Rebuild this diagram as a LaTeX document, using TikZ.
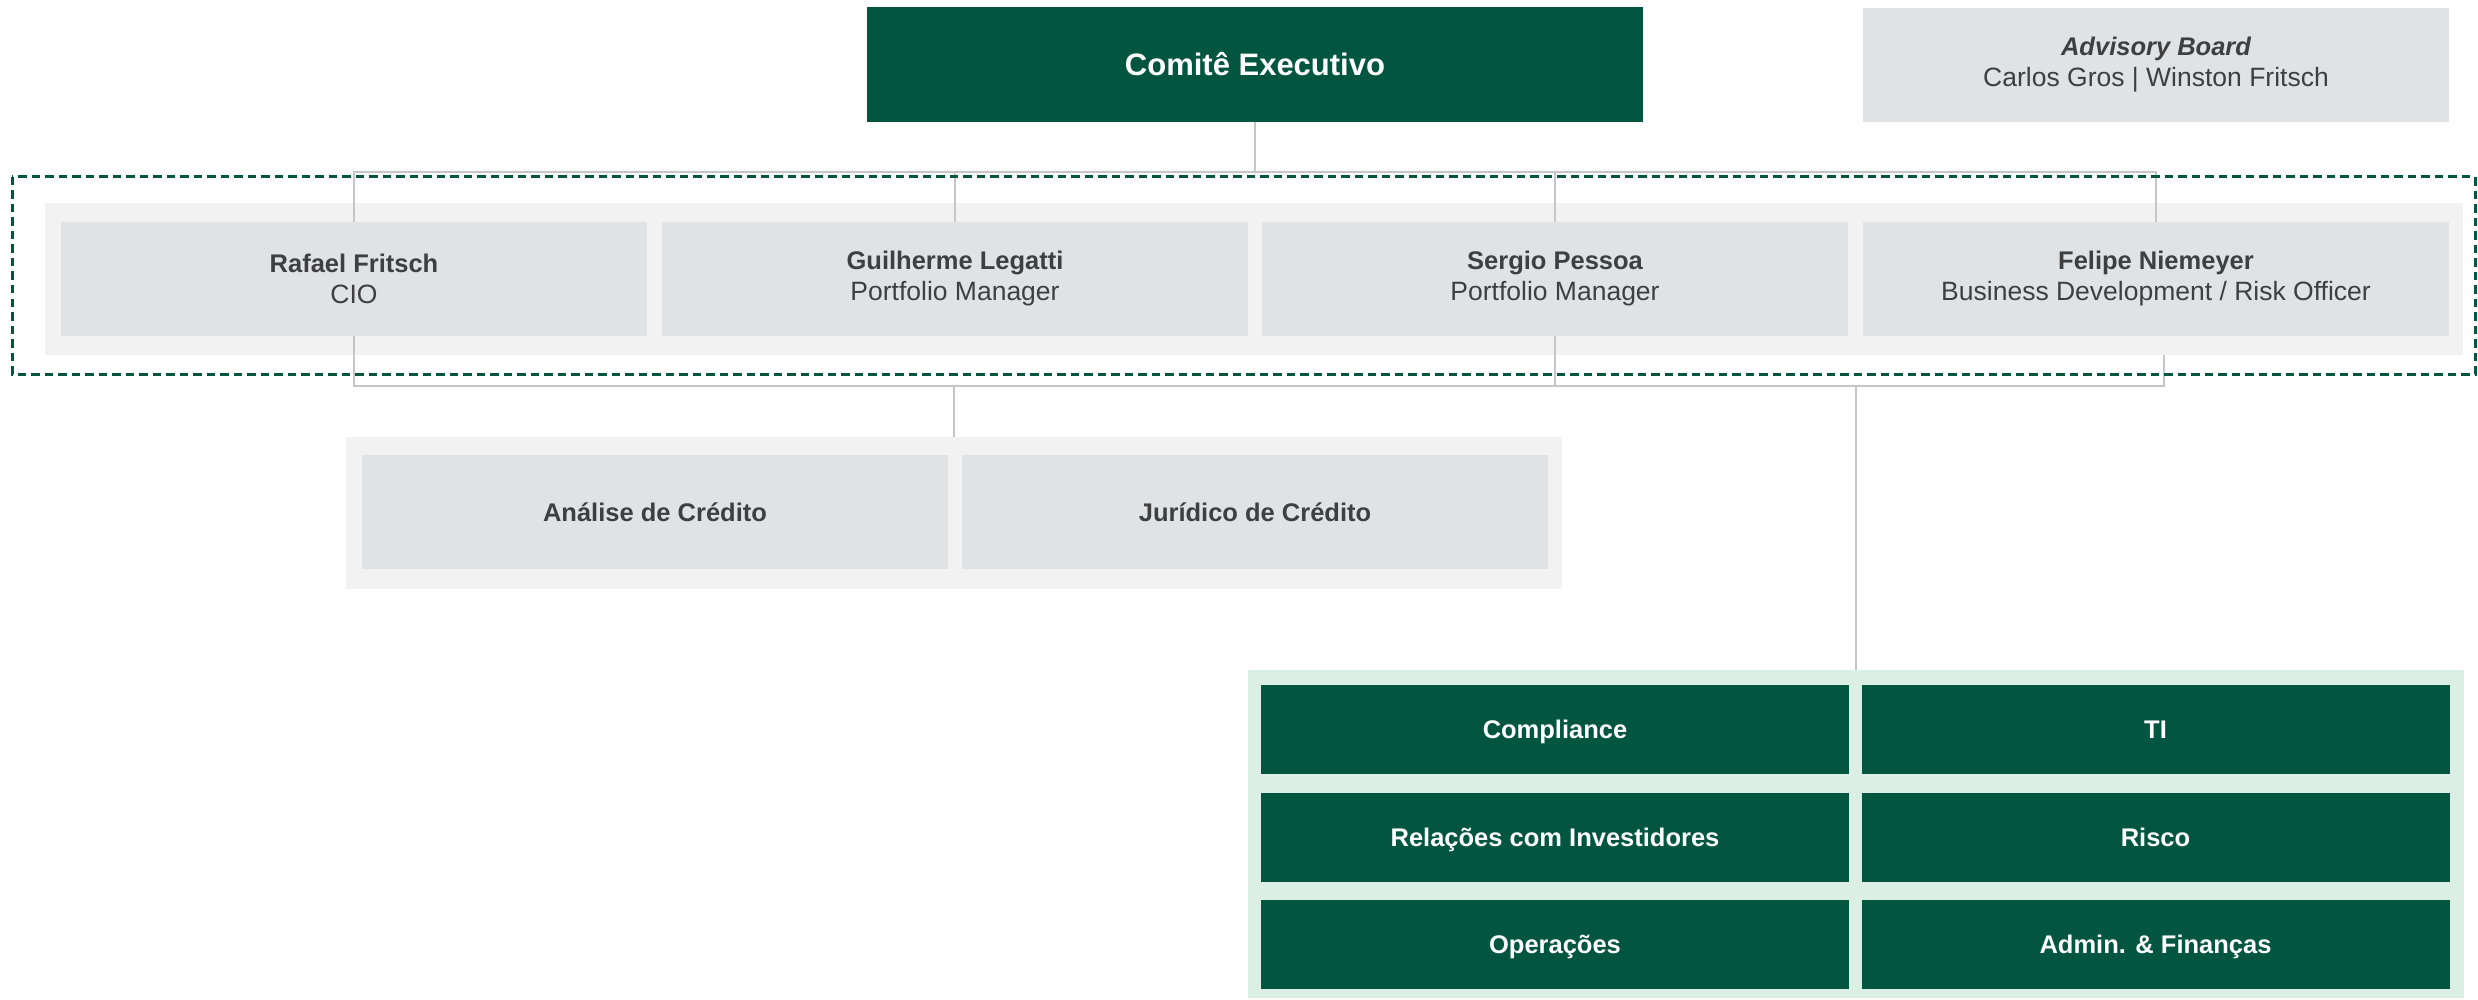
\documentclass[tikz,border=0pt]{standalone}
\usepackage{fontspec}
\setmainfont{Liberation Sans}
\definecolor{dkgreen}{HTML}{02563F}
\definecolor{boxgrey}{HTML}{E1E2E4}
\definecolor{bandgrey}{HTML}{F2F2F2}
\definecolor{ltgreen}{HTML}{DCEFE4}
\definecolor{txt}{HTML}{3F3F3F}
\definecolor{linegrey}{HTML}{C6C6C6}
\tikzset{
  blk/.style={rectangle, inner sep=0pt, outer sep=0pt},
  person/.style={blk, fill=boxgrey, text=txt, minimum width=586pt, minimum height=114pt, align=center,
    font=\fontsize{26.5}{31}\selectfont},
  greybox/.style={blk, fill=boxgrey, text=txt, minimum width=586pt, minimum height=114pt,
    text height=18.3pt, text depth=0pt, font=\fontsize{25.5}{31}\selectfont\bfseries},
  greenbox/.style={blk, fill=dkgreen, text=white, minimum width=588pt, minimum height=89pt,
    text height=18.3pt, text depth=0pt, font=\fontsize{25.5}{31}\selectfont\bfseries},
  conn/.style={draw=linegrey, line width=1.6pt}
}
\newcommand{\pname}[1]{{\fontsize{25.5}{31}\selectfont\bfseries #1}}
\begin{document}
\begin{tikzpicture}[x=1pt,y=-1pt]
\useasboundingbox (0,0) rectangle (2478,1000);
\fill[white] (0,0) rectangle (2478,1000);
% top
\node[blk, fill=dkgreen, text=white, minimum width=776pt, minimum height=115pt,
  text height=22.3pt, text depth=0pt,
  font=\fontsize{31}{36}\selectfont\bfseries] (comite) at (1255,64.5) {Comitê Executivo};
\node[person] (adv) at (2156,65) {{\fontsize{25.5}{31}\selectfont\bfseries\itshape Advisory Board}\\Carlos Gros | Winston Fritsch};
% band
\node[blk, fill=bandgrey, minimum width=2418pt, minimum height=152pt] (band) at (1254,279) {};
\node[person] (p1) at (354,279) {\pname{Rafael Fritsch}\\CIO};
\node[person] (p2) at (955,279) {\pname{Guilherme Legatti}\\Portfolio Manager};
\node[person] (p3) at (1555,279) {\pname{Sergio Pessoa}\\Portfolio Manager};
\node[person] (p4) at (2156,279) {\pname{Felipe Niemeyer}\\Business Development / Risk Officer};
% credit
\node[blk, fill=bandgrey, minimum width=1216pt, minimum height=152pt] (cred) at (954,513) {};
\node[greybox] (c1) at (655,512) {Análise de Crédito};
\node[greybox] (c2) at (1255,512) {Jurídico de Crédito};
% ops
\node[blk, fill=ltgreen, minimum width=1216pt, minimum height=328pt] (ops) at (1856,834) {};
\node[greenbox] (g1) at (1555,729.5) {Compliance};
\node[greenbox] (g2) at (2155.5,729.5) {TI};
\node[greenbox] (g3) at (1555,837) {Relações com Investidores};
\node[greenbox] (g4) at (2155.5,837) {Risco};
\node[greenbox] (g5) at (1555,944.5) {Operações};
\node[greenbox] (g6) at (2155.5,944.5) {Admin. \& Finanças};
% connectors
\coordinate (top) at (1255,172);
\coordinate (bot) at (1255,386);
\coordinate (fb) at (2164,355);
\draw[conn] (comite.south) -- (comite.south |- top);
\draw[conn] (p1.north) |- (p4.north |- top) -- (p4.north);
\draw[conn] (p2.north) -- (p2.north |- top);
\draw[conn] (p3.north) -- (p3.north |- top);
\draw[conn] (p1.south) |- (p3.south |- bot) -- (p3.south);
\draw[conn] (cred.north) -- (cred.north |- bot);
\draw[conn] (fb) |- (p3.south |- bot);
\draw[conn] (ops.north) -- (ops.north |- bot);
% dashed frame
\draw[dkgreen, line width=3pt, dash pattern=on 8.5pt off 5pt] (12,177) rectangle (2475,374);
\end{tikzpicture}
\end{document}
